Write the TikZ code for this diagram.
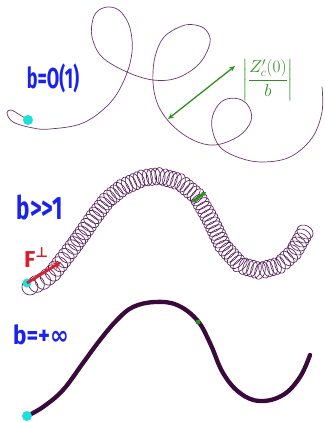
\documentclass[tikz,border=0pt]{standalone}
\usepackage{amsmath}
\usepackage{fontspec}
\setmainfont{Fira Sans}
\newfontfamily\symfont{DejaVu Sans}
\usetikzlibrary{arrows.meta}
\definecolor{traj}{HTML}{6E3470}
\definecolor{trajdark}{HTML}{55205A}
\definecolor{trajthick}{HTML}{3A0A3C}
\definecolor{dotcyan}{HTML}{1EE0DA}
\definecolor{labblue}{HTML}{1A22F0}
\definecolor{labgreen}{HTML}{2F8E1C}
\definecolor{labred}{HTML}{DA1F2C}
\tikzset{
  thintraj/.style={draw=traj, line width=0.7pt},
  ringpath/.style={draw=trajdark, line width=0.65pt},
  thicktraj/.style={draw=trajthick, line width=4.3pt, line cap=round},
  startdot/.style={circle, fill=dotcyan, inner sep=0pt, minimum size=10pt},
  bluelab/.style={text=labblue, inner sep=0pt, font=\fontsize{18}{18}\selectfont\bfseries},
  greenarrow/.style={draw=labgreen, line width=1.3pt, {Stealth[length=6pt,width=5pt]}-{Stealth[length=6pt,width=5pt]}},
}
\begin{document}
\begin{tikzpicture}[x=1pt,y=-1pt]
\useasboundingbox (0,0) rectangle (324,422);

% ---------- top trajectory, b = O(1)
\draw[thintraj] plot[smooth, tension=0.6] coordinates {
(28,120) (20,115) (11,110) (7,113) (13,122) (33,128) (50,129) (83,123)
(110,103) (125,78) (132,52) (130,28) (121,12) (110,7) (99,10) (93,19)
(92,37) (102,57) (127,72) (153,80) (177,78) (199,64) (210,43) (206,30)
(195,25) (182,26) (164,37) (155,57) (153,82) (158,105) (172,125) (193,140)
(215,145) (239,136) (251,121) (249,107) (239,99) (224,100) (214,112)
(212,128) (220,147) (240,158) (263,162) (290,157) (312,138) (322,112) (322,87)};
\node[startdot] (d1) at (28,120) {};
\node[bluelab] (l1) at (53,78) {\scalebox{1.0}[1.6]{b=O(1)}};

\coordinate (ga1) at (168,119);
\coordinate (ga2) at (235,66);
\draw[greenarrow] (ga1) -- (ga2);
\node[text=labgreen, inner sep=0pt] (zc) at (268,80)
  {\fontsize{17}{17}\selectfont$\left|\dfrac{Z_c'(0)}{b}\right|$};

% ---------- middle: gyrating rings, b >> 1
\draw[ringpath] (30,287) ellipse [x radius=8pt, y radius=8pt];
\foreach \ax/\ay/\bx/\by/\n/\sa in {
  30/287/43/281/2/7.8, 43/281/53/273/2/7.5, 53/273/63/260/3/7, 63/260/73/247/3/6.5,
  73/247/83/233/4/6, 83/233/94/217/4/5.5, 94/217/107/200/5/5, 107/200/123/187/5/5,
  123/187/143/178/5/5, 143/178/160/176/4/5, 160/176/180/182/5/5, 180/182/197/196/5/5,
  197/196/210/219/6/5, 210/219/223/246/7/5, 223/246/240/265/6/5, 240/265/260/271/5/5,
  260/271/280/265/5/5, 280/265/294/252/4/5.5, 294/252/305/232/5/6.5}
{
  \pgfmathsetmacro{\ang}{atan2(\ay-\by,\bx-\ax)}
  \foreach \k in {1,...,\n}{
    \pgfmathsetmacro{\cx}{\ax+(\bx-\ax)*\k/\n}
    \pgfmathsetmacro{\cy}{\ay+(\by-\ay)*\k/\n}
    \draw[ringpath, shift={(\cx,\cy)}, rotate=\ang] (0,0) ellipse [x radius=\sa pt, y radius=8.5pt];
  }
}
\node[startdot, minimum size=9pt] (d2) at (27,283) {};
\node[bluelab] (l2) at (40,207) {\scalebox{1.25}[1.8]{b>\kern0pt>1}};
\coordinate (gb1) at (192,202);
\coordinate (gb2) at (206,192);
\draw[draw=labgreen, line width=2.6pt, {Stealth[length=4pt,width=5pt]}-{Stealth[length=4pt,width=5pt]}] (gb1) -- (gb2);
\coordinate (fa) at (27,283);
\coordinate (fb) at (61,262);
\draw[draw=labred, line width=2.8pt, -{Stealth[length=8pt,width=8pt]}] (fa) -- (fb);
\node[text=labred, inner sep=0pt, anchor=south west] (fl) at (24,268)
  {\fontsize{23}{23}\selectfont\bfseries F\raisebox{10pt}{\symfont\bfseries\fontsize{14}{14}\selectfont ⊥}};

% ---------- bottom: guiding-centre curve, b = +inf
\draw[thicktraj] plot[smooth, tension=0.65] coordinates {
(27,416) (43,407) (63,390) (83,363) (100,340) (117,320) (133,307)
(155,302) (177,305) (197,320) (210,343) (223,373) (240,393) (260,401)
(283,395) (300,377) (310,355)};
\node[startdot] (d3) at (27,416) {};
\node[circle, fill=labgreen, inner sep=0pt, minimum size=5pt] (gm) at (198,322) {};
\node[bluelab] (l3) at (41,335) {\scalebox{1.25}[1.45]{b=+{\symfont\bfseries ∞}}};
\end{tikzpicture}
\end{document}
